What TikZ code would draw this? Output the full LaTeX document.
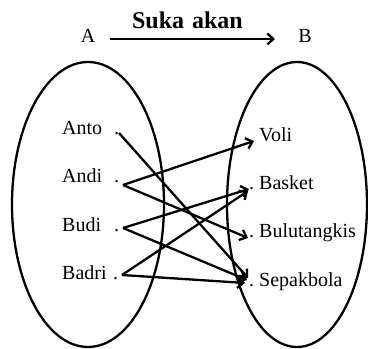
\documentclass[tikz,border=0pt]{standalone}
\usepackage{fontspec}
\setmainfont{Liberation Serif}
\usetikzlibrary{arrows.meta}
\begin{document}
\begin{tikzpicture}[x=1pt,y=1pt,
  setline/.style={line width=2.3pt},
  maparrow/.style={line width=2.3pt,-{Straight Barb[length=6pt,width=11pt,line width=2.3pt]}},
  lbl/.style={inner sep=0pt,anchor=base west,font=\fontsize{20}{24}\selectfont},
  hdr/.style={inner sep=0pt,anchor=base,font=\fontsize{20}{24}\selectfont}]
\useasboundingbox (0,0) rectangle (368,349);
% sets
\draw[setline] (88,144.5) ellipse [x radius=76, y radius=142.5];
\draw[setline] (297,144.5) ellipse [x radius=70, y radius=142.5];
% header
\node[hdr] (A) at (88,306) {A};
\node[hdr] (B) at (305,306) {B};
\node[inner sep=0pt,anchor=base,font=\fontsize{24}{28}\selectfont\bfseries] (title) at (187.5,320) {Suka\hspace{2pt} akan};
\coordinate (hs) at (110,310);
\coordinate (he) at (275,310);
\draw[maparrow] (hs) -- (he);
% domain labels
\node[lbl] (anto) at (62,214) {\makebox[52pt][l]{Anto}.};
\node[lbl] (andi) at (62,166) {\makebox[52pt][l]{Andi}.};
\node[lbl] (budi) at (62,117) {\makebox[52pt][l]{Budi}.};
\node[lbl] (badri) at (62,69) {\makebox[51pt][l]{Badri}.};
% codomain labels
\node[lbl] (voli) at (259,207) {Voli};
\node[lbl] (basket) at (249,159) {\makebox[10pt][l]{.}Basket};
\node[lbl] (bulu) at (249,111) {\makebox[10pt][l]{.}Bulutangkis};
\node[lbl] (sepak) at (249,62) {\makebox[10pt][l]{.}Sepakbola};
% start and end points
\coordinate (sAnto) at (119,216);
\coordinate (sAndi) at (123,164);
\coordinate (sBudi) at (123,121);
\coordinate (sBadri) at (122,74);
\coordinate (eVoli) at (254,208);
\coordinate (eBasket) at (249,160);
\coordinate (eBasketB) at (248,158);
\coordinate (eBulu) at (248,111);
\coordinate (eSepakA) at (248,71);
\coordinate (eSepakB) at (247,69);
\coordinate (eSepakC) at (245,66);
% mapping
\draw[maparrow] (sAnto) -- (eSepakA);
\draw[maparrow] (sAndi) -- (eVoli);
\draw[maparrow] (sAndi) -- (eBulu);
\draw[maparrow] (sBudi) -- (eBasket);
\draw[maparrow] (sBudi) -- (eSepakB);
\draw[maparrow] (sBadri) -- (eBasketB);
\draw[maparrow] (sBadri) -- (eSepakC);
\end{tikzpicture}
\end{document}
